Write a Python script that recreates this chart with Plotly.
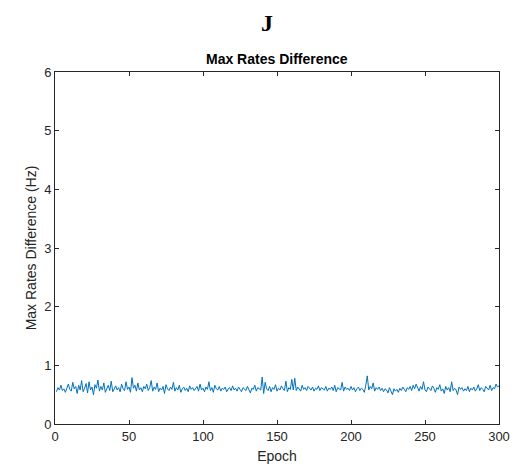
import plotly.graph_objects as go

epochs = list(range(1, 301))
max_rate_diff = [
    0.55,0.62,0.58,0.66,0.57,0.60,0.54,0.63,0.68,0.59,0.56,0.71,0.60,0.64,0.52,0.66,0.58,0.74,0.55,0.61,
    0.69,0.53,0.72,0.58,0.63,0.50,0.67,0.61,0.75,0.56,0.64,0.58,0.70,0.54,0.62,0.66,0.57,0.73,0.55,0.60,
    0.65,0.58,0.62,0.55,0.68,0.60,0.57,0.72,0.59,0.63,0.54,0.79,0.61,0.66,0.56,0.70,0.58,0.62,0.55,0.64,
    0.60,0.68,0.57,0.62,0.74,0.56,0.63,0.59,0.70,0.55,0.61,0.58,0.64,0.52,0.67,0.60,0.57,0.63,0.59,0.71,
    0.56,0.62,0.58,0.66,0.54,0.60,0.63,0.57,0.61,0.55,0.65,0.59,0.62,0.57,0.60,0.64,0.56,0.68,0.58,0.61,
    0.55,0.63,0.59,0.72,0.57,0.62,0.54,0.66,0.60,0.58,0.64,0.56,0.61,0.59,0.63,0.55,0.60,0.62,0.57,0.65,
    0.58,0.61,0.56,0.63,0.59,0.55,0.62,0.60,0.57,0.64,0.58,0.53,0.61,0.59,0.66,0.56,0.62,0.60,0.58,0.80,
    0.52,0.71,0.60,0.57,0.64,0.55,0.62,0.59,0.67,0.56,0.61,0.58,0.65,0.60,0.57,0.73,0.55,0.62,0.59,0.76,
    0.58,0.78,0.57,0.63,0.60,0.56,0.66,0.59,0.62,0.57,0.64,0.60,0.58,0.63,0.56,0.61,0.59,0.65,0.57,0.62,
    0.60,0.58,0.64,0.56,0.61,0.59,0.63,0.57,0.66,0.55,0.62,0.60,0.58,0.71,0.56,0.63,0.59,0.61,0.57,0.64,
    0.58,0.62,0.55,0.60,0.63,0.57,0.61,0.59,0.54,0.66,0.82,0.58,0.64,0.60,0.70,0.56,0.62,0.59,0.63,0.57,
    0.61,0.55,0.60,0.58,0.53,0.62,0.57,0.50,0.60,0.56,0.59,0.54,0.61,0.57,0.63,0.58,0.55,0.62,0.59,0.64,
    0.57,0.66,0.60,0.68,0.62,0.56,0.64,0.59,0.72,0.58,0.55,0.63,0.60,0.57,0.65,0.61,0.54,0.62,0.59,0.67,
    0.56,0.60,0.52,0.64,0.58,0.62,0.55,0.72,0.57,0.61,0.58,0.50,0.63,0.59,0.62,0.56,0.60,0.57,0.64,0.55,
    0.61,0.58,0.63,0.56,0.60,0.67,0.57,0.62,0.59,0.55,0.64,0.60,0.58,0.66,0.57,0.62,0.60,0.68,0.63,0.65,
]
x_ticks = [0, 50, 100, 150, 200, 250, 300]
y_ticks = [0, 1, 2, 3, 4, 5, 6]

L, R, T, B = 47, 36, 64, 53
W, H = 527, 469
pw, ph = W - L - R, H - T - B

axis_common = dict(showgrid=False, zeroline=False, showline=True, linecolor="#262626",
                   linewidth=1, mirror="ticks", ticks="inside", ticklen=4,
                   tickcolor="#262626",
                   tickfont=dict(family="Liberation Sans, Arial", size=13, color="#262626"))

fig = go.Figure()
fig.add_trace(go.Scatter(x=epochs, y=max_rate_diff, mode="lines",
                         line=dict(color="#0072BD", width=1), showlegend=False))

fig.update_layout(
    width=W, height=H,
    margin=dict(l=L, r=R, t=T, b=B),
    paper_bgcolor="white", plot_bgcolor="white",
    xaxis=dict(range=[0, 300], tickvals=x_ticks,
               title=dict(text="Epoch", font=dict(family="Liberation Sans, Arial", size=14, color="#262626"), standoff=8),
               **axis_common),
    yaxis=dict(range=[0, 6], tickvals=y_ticks,
               title=dict(text="Max Rates Difference (Hz)", font=dict(family="Liberation Sans, Arial", size=14, color="#262626"), standoff=4),
               **axis_common),
    annotations=[
        dict(text="<b>J</b>", x=(267 - 55) / pw, y=1 + T / ph, xref="paper", yref="paper",
             yanchor="top", showarrow=False,
             font=dict(family="Liberation Serif, Times New Roman", size=24, color="black")),
        dict(text="<b>Max Rates Difference</b>", x=0.5, y=1.0, xref="paper", yref="paper",
             yanchor="bottom", yshift=3, showarrow=False,
             font=dict(family="Liberation Sans, Arial", size=14, color="black")),
    ],
)

fig.write_html("out.html")
